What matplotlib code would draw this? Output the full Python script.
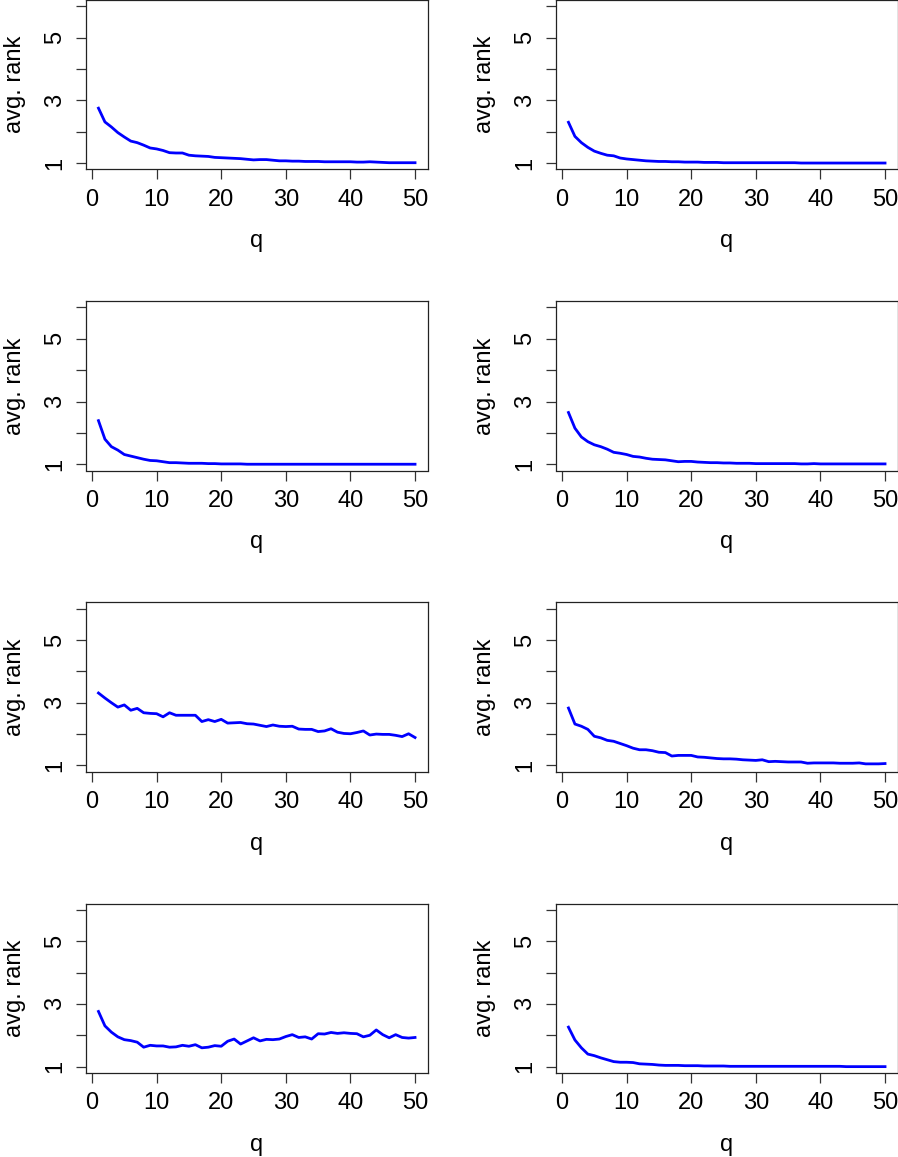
import matplotlib
matplotlib.use("Agg")
import matplotlib.pyplot as plt

# q = 1..50
q = list(range(1, 51))

# avg. rank per panel (row by row, left then right)
rank_1 = [2.75, 2.31, 2.15, 1.97, 1.83, 1.70, 1.65, 1.57, 1.48, 1.45,
          1.40, 1.33, 1.32, 1.32, 1.25, 1.23, 1.22, 1.21, 1.18, 1.17,
          1.16, 1.15, 1.14, 1.12, 1.10, 1.11, 1.11, 1.09, 1.07, 1.07,
          1.06, 1.06, 1.05, 1.05, 1.05, 1.04, 1.04, 1.04, 1.04, 1.04,
          1.03, 1.03, 1.04, 1.03, 1.02, 1.01, 1.01, 1.01, 1.01, 1.01]
rank_2 = [2.30, 1.85, 1.65, 1.50, 1.38, 1.31, 1.25, 1.23, 1.16, 1.13,
          1.11, 1.09, 1.07, 1.06, 1.05, 1.05, 1.04, 1.04, 1.03, 1.03,
          1.03, 1.02, 1.02, 1.02, 1.01, 1.01, 1.01, 1.01, 1.01, 1.01,
          1.01, 1.01, 1.01, 1.01, 1.01, 1.01, 1.00, 1.00, 1.00, 1.00,
          1.00, 1.00, 1.00, 1.00, 1.00, 1.00, 1.00, 1.00, 1.00, 1.00]
rank_3 = [2.39, 1.80, 1.56, 1.45, 1.31, 1.26, 1.21, 1.16, 1.12, 1.11,
          1.08, 1.05, 1.05, 1.04, 1.03, 1.03, 1.03, 1.02, 1.02, 1.01,
          1.01, 1.01, 1.01, 1.00, 1.00, 1.00, 1.00, 1.00, 1.00, 1.00,
          1.00, 1.00, 1.00, 1.00, 1.00, 1.00, 1.00, 1.00, 1.00, 1.00,
          1.00, 1.00, 1.00, 1.00, 1.00, 1.00, 1.00, 1.00, 1.00, 1.00]
rank_4 = [2.65, 2.15, 1.87, 1.72, 1.62, 1.56, 1.48, 1.38, 1.35, 1.31,
          1.25, 1.23, 1.19, 1.16, 1.15, 1.14, 1.11, 1.08, 1.09, 1.09,
          1.07, 1.06, 1.05, 1.05, 1.04, 1.04, 1.03, 1.03, 1.03, 1.02,
          1.02, 1.02, 1.02, 1.02, 1.02, 1.02, 1.01, 1.01, 1.02, 1.01,
          1.01, 1.01, 1.01, 1.01, 1.01, 1.01, 1.01, 1.01, 1.01, 1.01]
rank_5 = [3.31, 3.15, 3.00, 2.86, 2.93, 2.76, 2.82, 2.68, 2.66, 2.65,
          2.55, 2.68, 2.60, 2.60, 2.60, 2.60, 2.40, 2.46, 2.40, 2.47,
          2.35, 2.36, 2.37, 2.33, 2.32, 2.28, 2.24, 2.29, 2.25, 2.24,
          2.25, 2.16, 2.15, 2.15, 2.08, 2.10, 2.17, 2.06, 2.02, 2.01,
          2.05, 2.10, 1.97, 2.00, 1.99, 1.99, 1.96, 1.92, 2.01, 1.89]
rank_6 = [2.83, 2.32, 2.25, 2.15, 1.93, 1.88, 1.80, 1.77, 1.70, 1.63,
          1.55, 1.50, 1.50, 1.47, 1.42, 1.41, 1.30, 1.32, 1.32, 1.32,
          1.27, 1.26, 1.24, 1.22, 1.21, 1.21, 1.20, 1.18, 1.17, 1.16,
          1.18, 1.12, 1.13, 1.12, 1.11, 1.11, 1.11, 1.07, 1.08, 1.08,
          1.08, 1.08, 1.07, 1.07, 1.07, 1.08, 1.05, 1.05, 1.05, 1.06]
rank_7 = [2.76, 2.30, 2.10, 1.95, 1.86, 1.83, 1.78, 1.62, 1.68, 1.66,
          1.66, 1.62, 1.63, 1.68, 1.65, 1.70, 1.60, 1.62, 1.67, 1.65,
          1.81, 1.88, 1.72, 1.82, 1.92, 1.82, 1.87, 1.86, 1.88, 1.96,
          2.02, 1.93, 1.95, 1.88, 2.05, 2.04, 2.09, 2.06, 2.08, 2.06,
          2.05, 1.95, 2.00, 2.17, 2.02, 1.92, 2.02, 1.93, 1.91, 1.93]
rank_8 = [2.26, 1.85, 1.60, 1.40, 1.35, 1.28, 1.22, 1.16, 1.14, 1.14,
          1.13, 1.09, 1.08, 1.07, 1.05, 1.04, 1.04, 1.04, 1.03, 1.03,
          1.03, 1.02, 1.02, 1.02, 1.02, 1.01, 1.01, 1.01, 1.01, 1.01,
          1.01, 1.01, 1.01, 1.01, 1.01, 1.01, 1.01, 1.01, 1.01, 1.01,
          1.01, 1.01, 1.01, 1.00, 1.00, 1.00, 1.00, 1.00, 1.00, 1.00]

panels = [rank_1, rank_2, rank_3, rank_4, rank_5, rank_6, rank_7, rank_8]

x_ticks = [0, 10, 20, 30, 40, 50]
y_ticks = [1, 2, 3, 4, 5, 6]
y_labels = ["1", "", "3", "", "5", ""]

# layout in pixels
W, H = 898, 1157
col_left = [85.8, 555.8]
ax_w = 341.9
ax_h = 169.3
row_bottom = [169.3 + 301.2 * r for r in range(4)]

plt.rcParams['font.family'] = ['Liberation Sans', 'DejaVu Sans']
plt.rcParams['font.size'] = 17

fig = plt.figure(figsize=(W / 100, H / 100), dpi=100)

for i, vals in enumerate(panels):
    r, c = divmod(i, 2)
    ax = fig.add_axes([col_left[c] / W, 1 - row_bottom[r] / H, ax_w / W, ax_h / H])
    ax.plot(q, vals, color='#0000ff', linewidth=2.0)
    ax.set_xlim(-0.96, 51.96)
    ax.set_ylim(0.8, 6.2)
    ax.set_xticks(x_ticks)
    ax.set_yticks(y_ticks)
    ax.set_yticklabels(y_labels)
    ax.tick_params(direction='out', length=7, width=0.9, color='#333333', pad=7)
    ax.tick_params(axis='y', labelrotation=90)
    for lab in ax.get_yticklabels():
        lab.set_va('center')
    for s in ax.spines.values():
        s.set_linewidth(0.9)
        s.set_color('#222222')
    ax.set_xlabel('q')
    ax.xaxis.label.set_va('baseline')
    ax.xaxis.set_label_coords(0.5, -0.46)
    ax.set_ylabel('avg. rank')
    ax.yaxis.label.set_va('center')
    ax.yaxis.set_label_coords(-0.208, 0.5)

fig.savefig('out.png', dpi=100)
